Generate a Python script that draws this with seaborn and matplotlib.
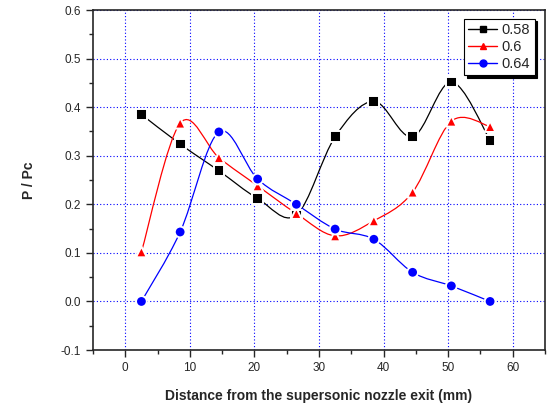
import numpy as np
import pandas as pd
import seaborn as sns
import matplotlib
matplotlib.use("Agg")
import matplotlib.pyplot as plt
from matplotlib.path import Path
from matplotlib.patches import PathPatch
from matplotlib.lines import Line2D
from matplotlib.ticker import MultipleLocator, FormatStrFormatter

distance = [2.5, 8.5, 14.5, 20.5, 26.5, 32.5, 38.5, 44.5, 50.5, 56.5]
s058 = [0.385, 0.324, 0.269, 0.212, 0.178, 0.339, 0.412, 0.339, 0.452, 0.332]
s060 = [0.102, 0.367, 0.296, 0.238, 0.181, 0.135, 0.166, 0.225, 0.371, 0.360]
s064 = [0.000, 0.143, 0.349, 0.252, 0.200, 0.149, 0.128, 0.060, 0.032, 0.000]
series_names = ["0.58", "0.6", "0.64"]
colors = ["black", "red", "blue"]
markers = ["s", "^", "o"]

sns.set_style("ticks")
plt.rcParams["font.family"] = ["Liberation Sans", "DejaVu Sans"]

fig = plt.figure(figsize=(5.47, 4.07), dpi=100)
ax = fig.add_axes([0.170, 0.140, 0.8263, 0.8354])

df = pd.DataFrame({
    "x": distance * 3,
    "y": s058 + s060 + s064,
    "series": sum([[n] * len(distance) for n in series_names], []),
})


def smooth_path(xs, ys):
    pts = np.column_stack([xs, ys])
    n = len(pts)
    verts = [pts[0]]
    codes = [Path.MOVETO]
    for i in range(n - 1):
        p0 = pts[i - 1] if i > 0 else pts[i]
        p1 = pts[i]
        p2 = pts[i + 1]
        p3 = pts[i + 2] if i + 2 < n else pts[i + 1]
        c1 = p1 + (p2 - p0) / 6.0
        c2 = p2 - (p3 - p1) / 6.0
        verts += [c1, c2, p2]
        codes += [Path.CURVE4] * 3
    return Path(verts, codes)


for name, col in zip(series_names, colors):
    sub = df[df.series == name]
    patch = PathPatch(smooth_path(sub.x.values, sub.y.values), facecolor="none",
                      edgecolor=col, lw=0.9, zorder=2)
    ax.add_patch(patch)

sns.scatterplot(data=df, x="x", y="y", hue="series", style="series",
                palette=dict(zip(series_names, colors)),
                markers=dict(zip(series_names, markers)),
                s=60, edgecolor="white", linewidth=1.4, legend=False, ax=ax, zorder=3)

ax.set_xlim(-5, 65)
ax.set_ylim(-0.1, 0.6)
ax.xaxis.set_major_locator(MultipleLocator(10))
ax.xaxis.set_minor_locator(MultipleLocator(5))
ax.yaxis.set_major_locator(MultipleLocator(0.1))
ax.yaxis.set_minor_locator(MultipleLocator(0.05))
ax.yaxis.set_major_formatter(FormatStrFormatter("%.1f"))
ax.grid(True, which="major", color="blue", linestyle=(0, (1, 2)), linewidth=0.8)
ax.tick_params(which="major", direction="out", length=5, width=1, labelsize=8.5,
               top=False, right=False)
ax.tick_params(which="minor", direction="out", length=3, width=1, top=False, right=False)
for sp in ax.spines.values():
    sp.set_linewidth(1.2)
    sp.set_visible(True)

ax.set_xlabel("Distance from the supersonic nozzle exit (mm)", fontsize=10,
              fontweight="bold", labelpad=11)
ax.set_ylabel("P / Pc", fontsize=10, fontweight="bold", labelpad=18)

handles = [Line2D([0], [0], color=c, marker=m, markersize=5, lw=1,
                  markeredgecolor=c) for c, m in zip(colors, markers)]
leg = ax.legend(handles, series_names, loc="upper right", fontsize=10.5,
                frameon=True, fancybox=False, shadow={"color": "black", "alpha": 1},
                edgecolor="black", handlelength=2.0, borderpad=0.3,
                labelspacing=0.2, handletextpad=0.3, borderaxespad=0,
                bbox_to_anchor=(0.977, 0.975))
leg.get_frame().set_linewidth(0.8)

fig.savefig("out.png", dpi=100)
